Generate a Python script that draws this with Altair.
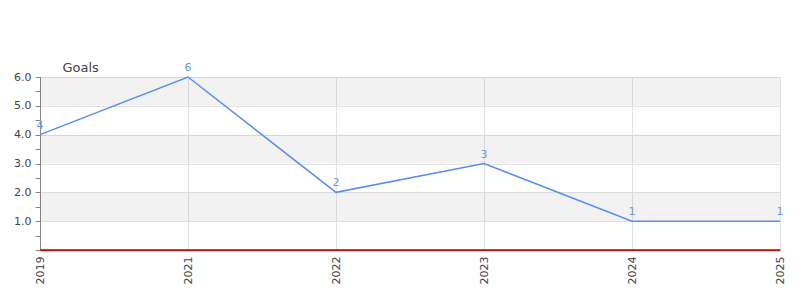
import altair as alt
import pandas as pd

years = ["2019", "2021", "2022", "2023", "2024", "2025"]
goals = [4, 6, 2, 3, 1, 1]
band_lo = [1, 3, 5]
band_hi = [2, 4, 6]
tick_values = [0, 0.5, 1, 1.5, 2, 2.5, 3, 3.5, 4, 4.5, 5, 5.5, 6]

df = pd.DataFrame({"year": years, "goals": goals})
bands = pd.DataFrame({"lo": band_lo, "hi": band_hi})
zero = pd.DataFrame({"z": [0]})

FONT = "DejaVu Sans"
W, H = 740, 173

yscale = alt.Scale(domain=[0, 6], nice=False)
xscale = alt.Scale(type="point", padding=0)

yaxis = alt.Axis(
    values=tick_values,
    labelExpr="datum.value % 1 == 0 && datum.value > 0 ? format(datum.value, '.1f') : ''",
    labelOverlap=False,
    gridColor="#e3e3e3",
    gridOpacity={"condition": {"test": "datum.value % 1 != 0", "value": 0}, "value": 1},
    domainColor="#888888",
    tickColor="#888888",
    tickSize=5,
    labelFont=FONT,
    labelFontSize=11,
    labelColor="#444444",
    labelPadding=4,
    title="Goals",
    titleFont=FONT,
    titleFontSize=13,
    titleFontWeight="normal",
    titleColor="#444444",
    titleAngle=0,
    titleAlign="left",
    titleBaseline="alphabetic",
    titleX=22,
    titleY=-6,
)

xaxis = alt.Axis(
    title=None,
    labelAngle=-90,
    labelOverlap=False,
    labelFont=FONT,
    labelFontSize=11,
    labelColor="#444444",
    labelPadding=6,
    gridColor="#e3e3e3",
    grid=True,
    domainColor="#555555",
    domainWidth=1.5,
    ticks=False,
)

band_layer = alt.Chart(bands).mark_rect(color="#000000", opacity=0.05).encode(
    x=alt.value(0),
    x2=alt.value(W),
    y=alt.Y("lo:Q", scale=yscale, axis=yaxis),
    y2="hi:Q",
)

line = alt.Chart(df).mark_line(color="#5b8def", strokeWidth=1.5).encode(
    x=alt.X("year:O", scale=xscale, axis=xaxis, sort=years),
    y=alt.Y("goals:Q", scale=yscale, axis=yaxis),
)

labels = alt.Chart(df).mark_text(
    color="#7096e0", font=FONT, fontSize=11, dy=-9, align="center"
).encode(
    x=alt.X("year:O", scale=xscale, sort=years, axis=xaxis),
    y=alt.Y("goals:Q", scale=yscale, axis=yaxis),
    text="goals:Q",
)

zero_rule = alt.Chart(zero).mark_rule(color="#dd0000", strokeWidth=1.5).encode(
    y=alt.Y("z:Q", scale=yscale, axis=yaxis),
    x=alt.value(0),
    x2=alt.value(W),
)

chart = alt.layer(band_layer, line, zero_rule, labels).properties(
    width=W,
    height=H,
    autosize=alt.AutoSizeParams(type="none"),
    padding={"left": 40, "top": 77, "right": 20, "bottom": 50},
).configure_view(stroke=None).configure(background="white")

chart.save("out.html", embed_options={"renderer": "svg", "actions": False})
